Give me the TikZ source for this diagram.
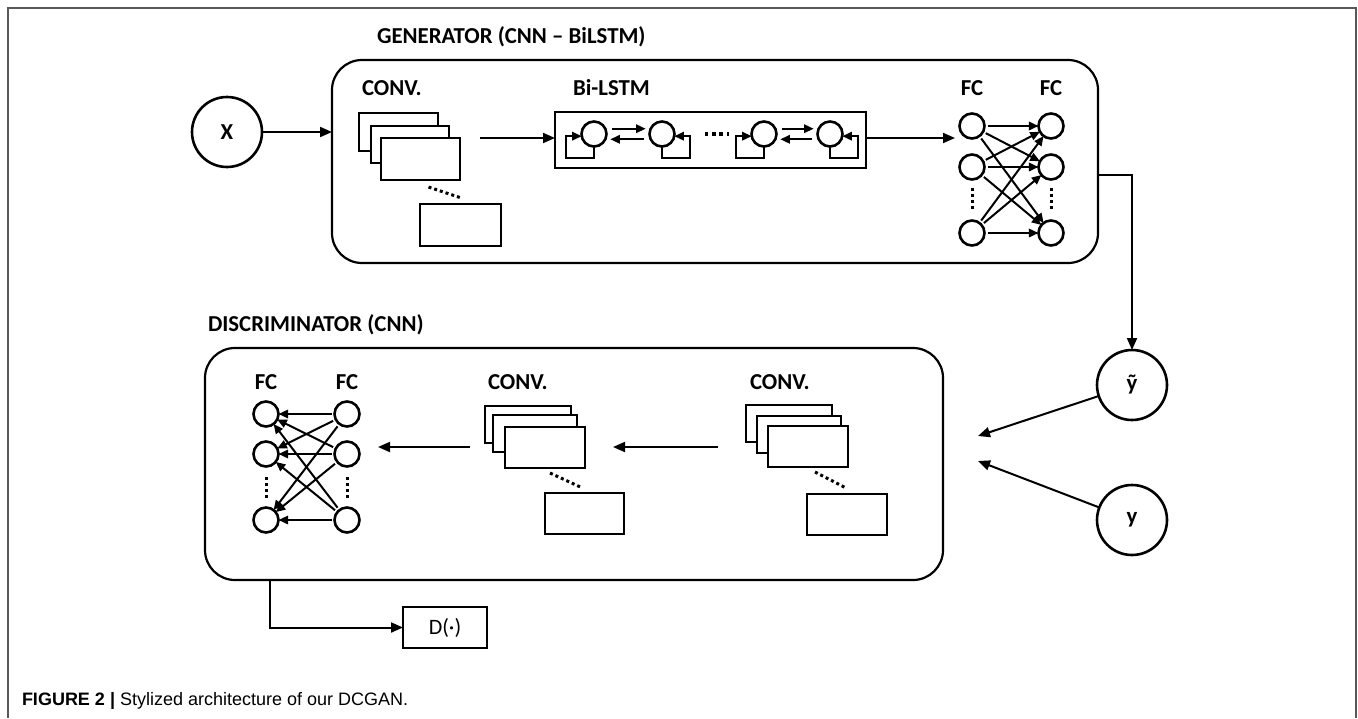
\documentclass[tikz,border=0pt]{standalone}
\usepackage{fontspec}
\setmainfont{Carlito}
\newfontfamily\capfont{Liberation Sans}
\usetikzlibrary{arrows.meta,calc}
\begin{document}
\begin{tikzpicture}[x=0.5pt,y=-0.5pt,
  every node/.style={inner sep=0pt, outer sep=0pt},
  hdr/.style={font=\fontsize{11.4}{13}\selectfont\bfseries, anchor=base west},
  hdrc/.style={font=\fontsize{11.4}{13}\selectfont\bfseries, anchor=base},
  panel/.style={draw, line width=1.1pt, rounded corners=15pt},
  big/.style={circle, draw, line width=1.3pt, minimum size=35pt,
              font=\fontsize{11.4}{13}\selectfont\bfseries},
  unit/.style={circle, draw, line width=1.3pt, minimum size=12.5pt},
  fmap/.style={draw, line width=1.4pt, fill=white},
  arr/.style={line width=1pt, -{Triangle[length=6pt,width=5pt]}},
  sarr/.style={line width=1pt, -{Triangle[length=4.8pt,width=4.2pt]}},
  dots/.style={line width=1.5pt, dash pattern=on 1.5pt off 1.5pt},
  frame/.style={line width=0.8pt, draw=black!65},
]
\useasboundingbox (0,0) rectangle (1358,718);

% page frame
\draw[frame] (8,718) -- (8,8) -- (1356,8) -- (1356,718);

% ---------------- generator ----------------
\node[hdr] (gtitle) at (377,43) {GENERATOR (CNN – BiLSTM)};
\node[panel, minimum width=383pt, minimum height=101.5pt] (gen) at (715,161.5) {};

\node[big] (x) at (227,132) {X};
\draw[arr] (x) -- (x -| gen.west);

% convolution stack
\node[hdr] (gconvl) at (362,95) {CONV.};
\node[fmap, minimum width=39.5pt, minimum height=19pt] (gc1) at (398.5,132) {};
\node[fmap, minimum width=39pt, minimum height=18.5pt] (gc2) at (410,144.5) {};
\node[fmap, minimum width=39.5pt, minimum height=21pt] (gc3) at (420.5,159) {};
\node[fmap, minimum width=40.5pt, minimum height=21pt] (gc4) at (460.5,225) {};
\draw[dots] ($(gc3.south)+(8,7)$) -- ($(gc4.north)+(1,-6)$);

% Bi-LSTM
\node[hdr] (lstml) at (573,95) {Bi-LSTM};
\node[draw, line width=1.3pt, minimum width=155.5pt, minimum height=28pt] (lstm) at (710.5,140) {};
\coordinate (a1) at (480,138);
\draw[arr] (a1) -- (lstm.west |- a1);

\node[unit] (c1) at (594,134) {};
\node[unit] (c2) at (662,134) {};
\node[unit] (c3) at (764,134) {};
\node[unit] (c4) at (830,134) {};
\draw[sarr] (c1.south) |- ++(-28,11) |- (c1.190);
\draw[sarr] (c2.south) |- ++(28,11) |- (c2.-10);
\draw[sarr] (c3.south) |- ++(-28,11) |- (c3.190);
\draw[sarr] (c4.south) |- ++(28,11) |- (c4.-10);
\draw[sarr, shorten <=3.5pt, shorten >=2.5pt] (c1.25) -- (c2.155);
\draw[sarr, shorten <=3.5pt, shorten >=2.5pt] (c2.205) -- (c1.-25);
\draw[sarr, shorten <=3.5pt, shorten >=2.5pt] (c3.25) -- (c4.155);
\draw[sarr, shorten <=3.5pt, shorten >=2.5pt] (c4.205) -- (c3.-25);
\draw[line width=1.7pt, dash pattern=on 1.7pt off 1.9pt] (705,134) -- (729,134);

% fully connected layers
\node[hdrc] (gfc1) at (972,95) {FC};
\node[hdrc] (gfc2) at (1051,95) {FC};
\node[unit] (gl1) at (972,126) {};
\node[unit] (gl2) at (972,167) {};
\node[unit] (gl3) at (972,233) {};
\node[unit] (gr1) at (1051,126) {};
\node[unit] (gr2) at (1051,167) {};
\node[unit] (gr3) at (1051,233) {};
\draw[dots] (972,188) -- (972,209);
\draw[dots] (1051,188) -- (1051,209);
\foreach \i in {1,2,3}
  \foreach \j in {1,2,3}
    \draw[sarr, shorten <=1.5pt] (gl\i) -- (gr\j);
\coordinate (a2) at (955,138);
\draw[arr] (lstm.east |- a2) -- (a2);

% generated sample
\node[big] (yt) at (1132,385) {ỹ};
\coordinate (gout) at (gen.east |- 0,175);
\draw[arr] (gout) -| (yt.north);

% ---------------- discriminator ----------------
\node[hdr] (dtitle) at (208,331) {DISCRIMINATOR (CNN)};
\node[panel, minimum width=369pt, minimum height=116pt] (disc) at (574,464) {};

\node[big] (yr) at (1132,520) {y};
\coordinate (m1) at (978,436);
\coordinate (m2) at (978,461);
\draw[arr] (yt) -- (m1);
\draw[arr] (yr) -- (m2);

% first convolution stack
\node[hdr] (dconv2) at (750,389) {CONV.};
\node[fmap, minimum width=43pt, minimum height=18.5pt] (dr1) at (789,423.5) {};
\node[fmap, minimum width=42pt, minimum height=18.5pt] (dr2) at (799,434.5) {};
\node[fmap, minimum width=40pt, minimum height=20.5pt] (dr3) at (808,446.5) {};
\node[fmap, minimum width=40pt, minimum height=20.5pt] (dr4) at (847,514.5) {};
\draw[dots] ($(dr3.south)+(7,5)$) -- ($(dr4.north)+(-1,-6)$);

% second convolution stack
\node[hdr] (dconv1) at (488,389) {CONV.};
\node[fmap, minimum width=43pt, minimum height=18.5pt] (dl1) at (528,424.5) {};
\node[fmap, minimum width=42pt, minimum height=18.5pt] (dl2) at (535,433.5) {};
\node[fmap, minimum width=40pt, minimum height=20.5pt] (dl3) at (545,447.5) {};
\node[fmap, minimum width=39.5pt, minimum height=20.5pt] (dl4) at (584.5,513.5) {};
\draw[dots] ($(dl3.south)+(5,5)$) -- ($(dl4.north)+(-2,-5)$);

\coordinate (a3) at (718,447);
\coordinate (a4) at (613,447);
\draw[arr] (a3) -- (a4);
\coordinate (a5) at (470,447);
\coordinate (a6) at (378,447);
\draw[arr] (a5) -- (a6);

% fully connected layers
\node[hdrc] (dfc1) at (266,389) {FC};
\node[hdrc] (dfc2) at (347,389) {FC};
\node[unit] (fa1) at (266,414) {};
\node[unit] (fa2) at (266,454) {};
\node[unit] (fa3) at (266,520) {};
\node[unit] (fb1) at (347,414) {};
\node[unit] (fb2) at (347,454) {};
\node[unit] (fb3) at (347,520) {};
\draw[dots] (266,477) -- (266,500);
\draw[dots] (347,477) -- (347,500);
\foreach \i in {1,2,3}
  \foreach \j in {1,2,3}
    \draw[sarr, shorten <=1.5pt] (fb\i) -- (fa\j);

% decision
\node[draw, line width=1.4pt, minimum width=42pt, minimum height=20.5pt,
      font=\fontsize{11}{13}\selectfont] (dec) at (445,627.5) {D(·)};
\coordinate (dout) at (disc.south -| 270,0);
\draw[arr] (dout) |- (dec.west);

% caption
\node[anchor=base west, font=\capfont\fontsize{9}{11}\selectfont] (cap) at (22,705)
  {\textbf{FIGURE 2 |} Stylized architecture of our DCGAN.};
\end{tikzpicture}
\end{document}
